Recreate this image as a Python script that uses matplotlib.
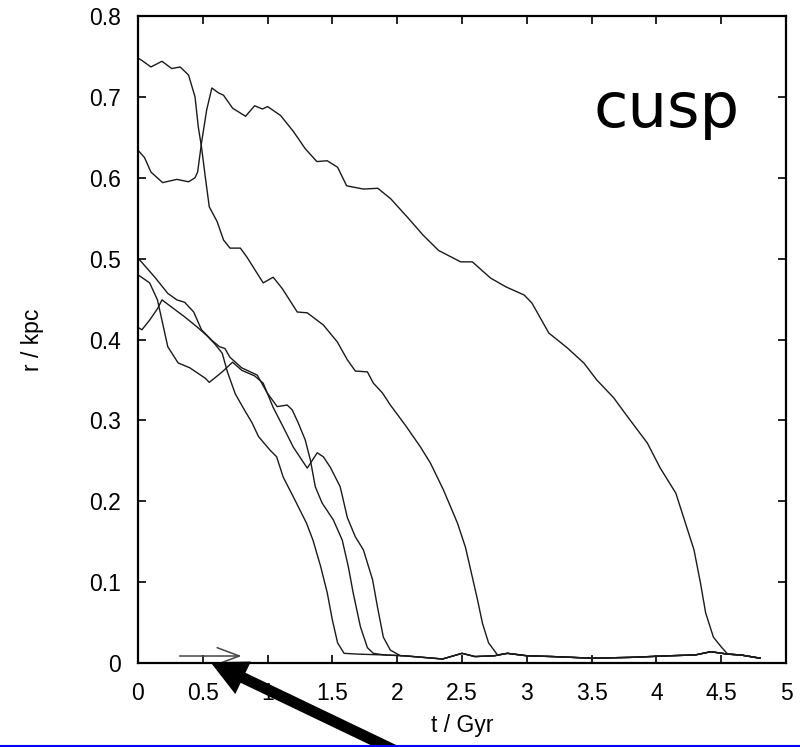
import numpy as np
import matplotlib.pyplot as plt
from matplotlib.lines import Line2D
from matplotlib.patches import FancyArrowPatch

# floor the orbits settle onto once they hit the centre
floor_t = [1.70, 1.90, 2.05, 2.20, 2.35, 2.50, 2.60, 2.75, 2.85, 3.00, 3.20, 3.50, 3.80, 4.10, 4.30, 4.42, 4.55, 4.65, 4.80]
floor_r = [0.011, 0.010, 0.009, 0.007, 0.005, 0.012, 0.008, 0.009, 0.012, 0.009, 0.008, 0.006, 0.007, 0.009, 0.010, 0.014, 0.011, 0.010, 0.006]

# orbit starting at 0.635, sinks at ~4.4 Gyr
t_b = [0, 0.05, 0.10, 0.19, 0.30, 0.39, 0.44, 0.46, 0.49, 0.53, 0.57, 0.62, 0.66, 0.73, 0.83, 0.90,
       0.96, 1.00, 1.10, 1.20, 1.29, 1.38, 1.46, 1.54, 1.61, 1.74, 1.85, 1.95, 2.08, 2.20, 2.32, 2.49,
       2.58, 2.72, 2.84, 2.98, 3.04, 3.17, 3.31, 3.44, 3.54, 3.67, 3.78, 3.93, 4.03, 4.15, 4.21, 4.29,
       4.34, 4.38, 4.44, 4.50]
r_b = [0.634, 0.625, 0.607, 0.594, 0.598, 0.595, 0.600, 0.607, 0.643, 0.684, 0.711, 0.705, 0.702, 0.686,
       0.676, 0.689, 0.685, 0.688, 0.677, 0.657, 0.636, 0.620, 0.621, 0.613, 0.590, 0.586, 0.587, 0.574,
       0.551, 0.529, 0.510, 0.496, 0.496, 0.476, 0.465, 0.455, 0.445, 0.408, 0.390, 0.371, 0.350, 0.328,
       0.304, 0.272, 0.241, 0.210, 0.180, 0.140, 0.099, 0.062, 0.032, 0.020]

# orbit starting at 0.745, sinks at ~2.7 Gyr
t_a = [0, 0.03, 0.10, 0.185, 0.26, 0.325, 0.39, 0.44, 0.465, 0.49, 0.52, 0.55, 0.61, 0.66, 0.71, 0.79,
       0.84, 0.966, 1.043, 1.113, 1.229, 1.306, 1.43, 1.538, 1.615, 1.677, 1.77, 1.816, 1.886, 1.947,
       2.063, 2.18, 2.257, 2.357, 2.465, 2.527, 2.58, 2.62, 2.658, 2.705, 2.774]
r_a = [0.748, 0.745, 0.737, 0.744, 0.735, 0.737, 0.727, 0.700, 0.663, 0.638, 0.600, 0.564, 0.546, 0.523,
       0.513, 0.513, 0.502, 0.470, 0.477, 0.463, 0.434, 0.433, 0.418, 0.397, 0.375, 0.361, 0.360, 0.346,
       0.334, 0.319, 0.294, 0.267, 0.247, 0.214, 0.173, 0.143, 0.106, 0.078, 0.049, 0.025, 0.010]

# the three inner orbits
t_l1 = [0, 0.03, 0.09, 0.15, 0.185, 0.26, 0.36, 0.46, 0.53, 0.59, 0.65, 0.69, 0.75, 0.81, 0.88, 0.93,
        1.02, 1.07, 1.12, 1.20, 1.30, 1.35, 1.41, 1.46, 1.50, 1.54, 1.59]
r_l1 = [0.415, 0.412, 0.424, 0.438, 0.449, 0.440, 0.428, 0.415, 0.405, 0.395, 0.383, 0.360, 0.333, 0.316,
        0.297, 0.280, 0.263, 0.255, 0.230, 0.205, 0.173, 0.152, 0.119, 0.087, 0.053, 0.025, 0.012]

t_l2 = [0, 0.015, 0.13, 0.23, 0.30, 0.36, 0.43, 0.49, 0.57, 0.63, 0.67, 0.71, 0.80, 0.92, 0.997, 1.074,
        1.151, 1.19, 1.236, 1.29, 1.33, 1.368, 1.42, 1.507, 1.576, 1.623, 1.66, 1.716, 1.77, 1.816]
r_l2 = [0.500, 0.498, 0.477, 0.457, 0.449, 0.446, 0.434, 0.412, 0.399, 0.391, 0.389, 0.378, 0.365, 0.356,
        0.334, 0.317, 0.319, 0.313, 0.297, 0.276, 0.251, 0.218, 0.198, 0.177, 0.152, 0.119, 0.087, 0.045,
        0.019, 0.012]

t_l3 = [0, 0.09, 0.15, 0.19, 0.23, 0.31, 0.40, 0.52, 0.55, 0.65, 0.73, 0.80, 0.90, 0.966, 1.043, 1.12,
        1.198, 1.306, 1.383, 1.43, 1.484, 1.56, 1.615, 1.677, 1.739, 1.81, 1.847, 1.893, 1.947, 2.025]
r_l3 = [0.480, 0.470, 0.449, 0.420, 0.391, 0.371, 0.365, 0.352, 0.347, 0.360, 0.372, 0.362, 0.355, 0.346,
        0.316, 0.292, 0.267, 0.241, 0.260, 0.255, 0.242, 0.218, 0.180, 0.156, 0.140, 0.103, 0.070, 0.032,
        0.016, 0.009]

curves = [(t_a, r_a), (t_b, r_b), (t_l1, r_l1), (t_l2, r_l2), (t_l3, r_l3)]

xticks = [0, 0.5, 1, 1.5, 2, 2.5, 3, 3.5, 4, 4.5, 5]
xticklabels = ["0", "0.5", "1", "1.5", "2", "2.5", "3", "3.5", "4", "4.5", "5"]
yticks = [0, 0.1, 0.2, 0.3, 0.4, 0.5, 0.6, 0.7, 0.8]
yticklabels = ["0", "0.1", "0.2", "0.3", "0.4", "0.5", "0.6", "0.7", "0.8"]

plt.rcParams['font.family'] = ['Liberation Sans', 'DejaVu Sans']

fig = plt.figure(figsize=(8, 7.47), dpi=100)
ax = fig.add_axes([0.1725, 0.1124, 0.81, 0.8662])

ft = np.array(floor_t)
fr = np.array(floor_r)
for t, r in curves:
    tail = ft > t[-1]
    tt = np.concatenate([t, ft[tail]])
    rr = np.concatenate([r, fr[tail]])
    ax.plot(tt, rr, color='#1a1a1a', lw=1.0)

ax.set_xlim(0, 5)
ax.set_ylim(0, 0.8)
ax.set_xticks(xticks)
ax.set_xticklabels(xticklabels)
ax.set_yticks(yticks)
ax.set_yticklabels(yticklabels)
ax.tick_params(direction='in', top=True, right=True, length=6, width=1.2, labelsize=16.5)
ax.tick_params(axis='x', pad=14)
ax.tick_params(axis='y', pad=12)
for s in ax.spines.values():
    s.set_linewidth(1.6)

ax.set_xlabel("t / Gyr", fontsize=16.5, labelpad=6)
ax.set_ylabel("r / kpc", fontsize=16.5, labelpad=33)

ax.text(0.929, 0.828, "cusp", transform=ax.transAxes, ha='right', va='baseline',
        fontsize=45, family='DejaVu Sans')

# small horizontal arrow on the floor
ax.annotate("", xy=(0.82, 0.0087), xytext=(0.30, 0.0087),
            arrowprops=dict(arrowstyle='->, head_length=0.8, head_width=0.3',
                            color='#444444', lw=1.1, mutation_scale=20))

# big black pointer from below the axes
fig.patches.append(FancyArrowPatch(
    (400, -6), (208, 86), transform=None,
    arrowstyle='simple, head_length=0.65, head_width=0.65, tail_width=0.2',
    mutation_scale=40, color='black', lw=0))

fig.add_artist(Line2D([0, 1], [1.2 / 747, 1.2 / 747], transform=fig.transFigure,
                      color='#0000ff', lw=1.5))

fig.savefig("out.png", dpi=100)
